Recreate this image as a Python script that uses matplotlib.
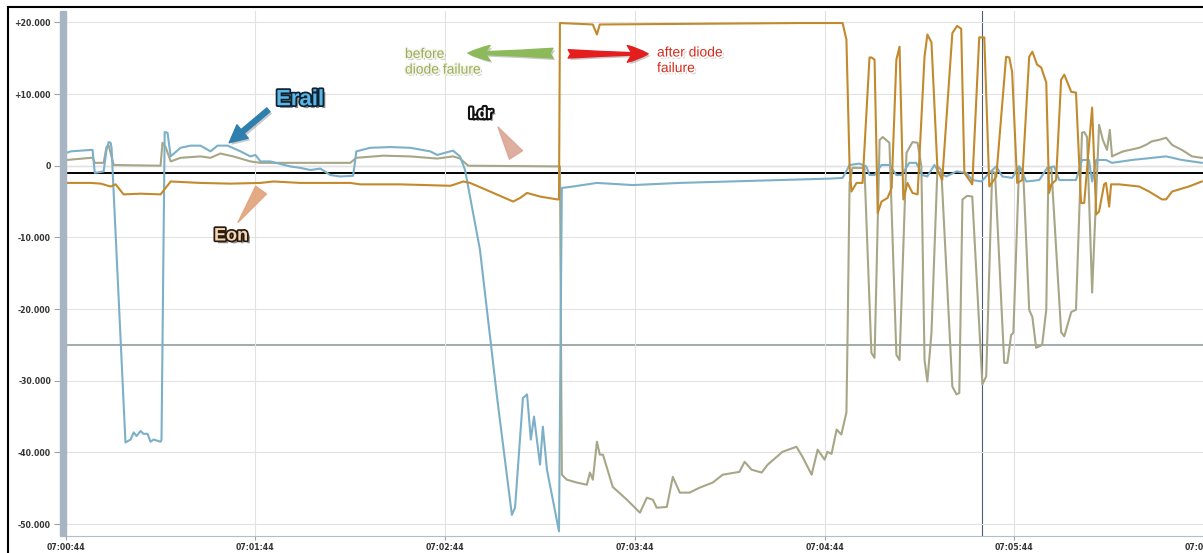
import matplotlib.pyplot as plt
import matplotlib.patheffects as pe
from matplotlib.patches import Rectangle
from matplotlib.lines import Line2D
from matplotlib.ticker import FuncFormatter

# seconds after 07:00:44, value
erail_pts = [(0.3, 1.8), (1.6, 2.0), (7.9, 2.2), (8.5, 2.2), (9.2, -1.0), (12.0, -0.8), (12.9, 2.2),
             (13.6, 3.3), (14.2, 3.2), (14.5, 2.5), (18.9, -38.6), (20.5, -38.2), (21.5, -37.2),
             (22.4, -37.7), (23.7, -37.0), (24.6, -37.4), (25.9, -37.4), (26.8, -38.5), (27.8, -38.2),
             (30.0, -38.5), (30.3, -38.2), (31.3, 4.7), (32.2, 4.6), (33.2, 1.3), (36.3, 2.5), (39.5, 2.8),
             (42.6, 2.8), (45.8, 2.0), (48.0, 2.8), (51.2, 2.8), (55.3, 2.0), (58.4, 1.3), (60.0, 1.5),
             (61.6, 0.6), (64.7, 0.6), (71.0, -0.1), (74.2, -0.3), (77.4, -0.6), (80.5, -0.4), (83.7, -1.3),
             (86.8, -1.5), (90.9, -1.4), (91.9, 2.0), (96.3, 2.5), (102.6, 2.6), (108.9, 2.5), (115.3, 2.0),
             (117.5, 1.5), (121.6, 2.0), (122.5, 2.1), (124.7, 1.3), (126.3, -0.6), (131.0, -11.7),
             (136.5, -32.6), (141.1, -48.7), (142.1, -47.7), (144.6, -32.4), (145.9, -31.9), (147.1, -38.2),
             (148.1, -35.0), (150.0, -41.7), (150.9, -36.4), (152.2, -42.4), (156.0, -51.0), (156.9, -3.1),
             (160.4, -2.9), (168.0, -2.4), (179.4, -2.7), (194.2, -2.4), (210.0, -2.2), (225.8, -2.0),
             (241.6, -1.8), (245.7, -1.7), (247.9, 0.1), (251.0, 0.3), (253.2, -0.1), (254.2, -1.3),
             (255.8, -1.3), (258.0, 0.1), (260.5, 0.1), (262.7, -1.3), (264.3, -1.3), (266.8, 0.4),
             (269.0, 0.4), (270.9, -1.3), (272.5, -1.5), (274.7, 0.1), (276.3, -1.0), (278.5, -1.5),
             (281.7, -0.8), (284.8, -1.0), (286.7, -2.0), (289.6, -2.2), (292.1, -1.0), (294.3, -0.1),
             (296.2, -1.5), (299.3, -1.7), (301.5, -0.1), (303.8, -2.2), (307.9, -2.0), (310.4, -0.3),
             (312.6, -0.1), (314.2, -2.0), (319.5, -2.0), (321.4, 0.8), (323.6, 0.8), (324.6, -2.2),
             (325.9, 0.8), (329.0, 0.8), (330.9, 0.4), (337.2, 0.8), (348.0, 1.3), (353.0, 0.8), (359.3, 0.4)]

idr_pts = [(0.3, 0.8), (7.9, 1.1), (8.5, 1.1), (9.2, 0.4), (12.0, 0.4), (12.9, 2.6), (13.6, 2.8), (14.2, 1.8),
           (15.2, 0.1), (30.0, 0.0), (30.6, 3.2), (31.6, 2.6), (33.2, 0.6), (36.3, 1.1), (42.6, 1.3),
           (45.8, 1.1), (48.9, 1.7), (53.0, 1.3), (58.4, 0.6), (61.6, 0.4), (90.0, 0.4), (91.9, 1.1),
           (100.4, 1.4), (108.9, 1.3), (117.5, 1.0), (122.5, 1.3), (124.7, 1.0), (127.3, 0.0), (155.7, -0.1),
           (156.3, -0.1), (156.9, -43.1), (158.5, -43.8), (161.7, -44.2), (164.8, -44.5), (165.8, -42.8),
           (166.7, -43.8), (168.0, -38.5), (168.9, -40.3), (169.9, -40.3), (173.0, -44.8), (177.5, -46.6),
           (181.6, -48.4), (183.8, -46.3), (185.7, -46.6), (186.9, -47.7), (190.1, -47.6), (192.0, -43.4),
           (194.2, -45.6), (197.3, -45.6), (200.5, -44.9), (204.6, -44.2), (207.8, -43.1), (213.1, -42.7),
           (214.7, -41.3), (216.9, -42.4), (220.1, -42.8), (222.0, -41.7), (226.7, -39.9), (231.1, -39.2),
           (233.0, -40.6), (235.9, -43.1), (237.8, -39.6), (240.0, -41.0), (240.9, -39.9), (242.2, -40.2),
           (243.8, -36.8), (245.3, -37.5), (246.9, -34.4), (247.2, -25.7), (247.9, -2.4), (248.8, -0.3),
           (252.6, -0.3), (254.8, -26.1), (255.8, -26.8), (257.4, 3.6), (258.4, 4.0), (260.5, 3.2),
           (262.7, -26.4), (263.7, -27.1), (265.9, 1.8), (267.8, 3.3), (269.4, 3.2), (270.6, -0.1),
           (271.6, -27.1), (272.5, -30.1), (273.8, -23.3), (275.7, -0.1), (276.9, -0.6), (280.4, -30.8),
           (281.7, -31.9), (282.6, -31.7), (283.6, -4.7), (285.1, -4.2), (286.7, -4.3), (289.9, -30.5),
           (291.1, -29.4), (293.0, -0.8), (293.9, -1.0), (296.8, -27.5), (297.8, -27.5), (299.0, -23.6),
           (299.7, -23.3), (301.5, -0.1), (302.8, -0.8), (304.7, -20.1), (305.7, -21.1), (306.9, -25.4),
           (308.8, -25.0), (310.1, -20.1), (310.8, -0.3), (311.7, -0.3), (314.8, -23.2), (315.8, -23.8),
           (318.0, -20.4), (319.5, -20.1), (321.4, 4.6), (322.1, 4.7), (323.0, 4.0), (324.6, -17.7),
           (326.8, 5.7), (328.0, 3.6), (329.3, 2.2), (330.2, 5.0), (330.9, 1.3), (331.8, 1.5), (334.4, 2.0),
           (339.5, 2.5), (341.6, 2.9), (343.5, 3.4), (345.7, 3.6), (348.0, 3.9), (349.9, 2.9), (353.0, 2.2),
           (356.2, 1.3), (359.3, 1.1)]

eon_pts = [(0.3, -2.4), (7.9, -2.4), (11.1, -2.5), (14.2, -2.9), (15.8, -2.6), (18.3, -4.0), (23.7, -3.9),
           (30.0, -4.0), (33.2, -2.2), (42.6, -2.4), (52.1, -2.5), (61.6, -2.4), (65.7, -2.2), (74.2, -2.4),
           (90.0, -2.4), (93.1, -2.6), (105.8, -2.6), (121.6, -2.8), (123.1, -2.6), (125.7, -2.2),
           (127.9, -2.4), (134.2, -3.6), (141.5, -5.0), (143.7, -4.5), (145.9, -3.8), (150.0, -4.3),
           (155.4, -4.7), (156.0, -4.7), (156.3, 19.9), (166.7, 19.7), (168.0, 18.3), (168.9, 19.7),
           (200.5, 19.8), (232.1, 19.9), (245.7, 19.9), (246.9, 17.6), (247.9, -0.1), (248.5, -3.6),
           (250.1, -2.4), (252.0, -2.4), (254.2, 15.1), (254.8, 15.1), (255.8, 14.8), (256.8, -6.6),
           (258.0, -5.0), (259.9, -4.5), (261.2, -3.1), (262.7, 14.8), (263.7, 16.6), (264.9, -4.7),
           (266.2, -2.4), (267.8, -3.8), (269.4, -4.0), (271.6, 15.2), (272.5, 18.3), (273.8, 17.2),
           (275.7, -0.6), (277.2, -2.0), (280.4, 18.5), (281.9, 19.5), (283.2, 19.1), (284.2, -1.0),
           (286.4, -2.4), (286.7, -2.6), (288.9, 17.9), (290.5, 17.9), (292.1, -2.9), (294.3, -1.5),
           (297.4, 15.2), (298.4, 15.1), (299.3, 13.1), (300.9, -2.4), (302.5, -2.0), (304.7, 15.2),
           (305.7, 15.9), (307.2, 14.1), (308.5, 13.7), (310.1, 11.6), (311.0, -3.8), (311.7, -2.6),
           (313.2, -2.0), (314.8, 12.0), (315.8, 12.7), (318.0, 10.3), (319.5, 10.2), (321.1, -5.2),
           (322.1, -5.2), (324.6, 8.1), (325.9, -6.8), (326.8, -6.4), (328.4, -2.6), (329.0, -2.4),
           (330.0, -5.7), (330.6, -2.6), (333.1, -2.6), (339.5, -2.9), (342.6, -3.6), (346.7, -4.7),
           (348.0, -4.7), (349.9, -3.6), (355.2, -2.9), (359.3, -2.2)]

x_ticks = [0, 60, 120, 180, 240, 300, 360]
y_ticks = [-50, -40, -30, -20, -10, 0, 10, 20]
zero_ref = -1.0       # black reference level
limit_ref = -25.0     # grey threshold level
cursor_t = 289.8      # marker cursor position

W, H = 1203, 553
fig = plt.figure(figsize=(W / 100, H / 100), dpi=100)
ax = fig.add_axes([65.7 / W, 17 / H, (1205 - 65.7) / W, 525 / H])
ax.set_xlim(0, 360.3)
ax.set_ylim(-51.65, 21.58)

# grid and reference lines
ax.set_xticks(x_ticks)
ax.set_yticks(y_ticks)
ax.grid(True, color='#e2e2e2', lw=0.8, zorder=0)
ax.axhline(0, color='#c4c4c4', lw=0.9, zorder=1)
ax.axhline(limit_ref, color='#a2aaaa', lw=1.4, zorder=1)
ax.axhline(zero_ref, color='black', lw=1.4, zorder=1)
ax.axvline(cursor_t, color='#4c5c72', lw=0.8, zorder=1)

# the three traces
t, v = zip(*idr_pts)
ax.plot(t, v, color='#a7a687', lw=1.5, zorder=2)
t, v = zip(*erail_pts)
ax.plot(t, v, color='#7cb0c8', lw=1.5, zorder=3)
t, v = zip(*eon_pts)
ax.plot(t, v, color='#c28a2c', lw=1.5, zorder=4)


def time_label(s, pos):
    total = 44 + int(round(s))
    return f"07:{total // 60:02d}:{total % 60:02d}"


def value_label(val, pos):
    if abs(val) < 1e-9:
        return "0"
    return f"{val:+.3f}"


ax.xaxis.set_major_formatter(FuncFormatter(time_label))
ax.yaxis.set_major_formatter(FuncFormatter(value_label))
for s in ['top', 'right', 'left']:
    ax.spines[s].set_visible(False)
ax.spines['bottom'].set_color('#b4bcc6')
ax.spines['bottom'].set_linewidth(0.8)
ax.tick_params(axis='y', length=9, width=0.8, color='#9aa4b0', pad=1.5,
               labelsize=5.6, labelcolor='#333333')
ax.tick_params(axis='x', length=3, width=0.8, color='#9aa4b0', pad=2,
               labelsize=5.6, labelcolor='#333333')
for lab in ax.get_xticklabels() + ax.get_yticklabels():
    lab.set_fontweight('bold')

# value scale bar on the left edge
fig.patches.append(Rectangle((60 / W, 17 / H), 5.7 / W, 525 / H, transform=fig.transFigure,
                             color='#a9b4c2', zorder=5))
# outer frame (top and left edges)
fig.add_artist(Line2D([8 / W, 1], [1 - 6.7 / H, 1 - 6.7 / H], color='black', lw=1.5))
fig.add_artist(Line2D([8 / W, 8 / W], [0, 1 - 6.7 / H], color='black', lw=1.5))


def label_fx(edge, width=2.5):
    return [pe.SimplePatchShadow(offset=(2, -2), shadow_rgbFace='black', alpha=0.45),
            pe.Stroke(linewidth=width, foreground=edge), pe.Normal()]


arrow_fx = [pe.SimplePatchShadow(offset=(1.5, -1.5), shadow_rgbFace='#666666', alpha=0.35), pe.Normal()]

# callouts
ax.text(74.1, 9.2, 'Erail', family='Liberation Sans', weight='bold', fontsize=16,
        color='#5cb6e4', ha='center', va='center', zorder=10, path_effects=label_fx('#0d2233'))
ax.annotate('', xy=(51.7, 3.2), xytext=(64.1, 7.8), zorder=9,
            arrowprops=dict(arrowstyle='simple,head_length=0.9,head_width=0.9,tail_width=0.25',
                            color='#2f7fae', mutation_scale=14, shrinkA=0, shrinkB=0,
                            path_effects=arrow_fx))

ax.text(52.3, -9.8, 'Eon', family='Liberation Sans', weight='bold', fontsize=13,
        color='#f3d6b4', ha='center', va='center', zorder=10, path_effects=label_fx('#2a1a10'))
ax.annotate('', xy=(54.5, -7.9), xytext=(61.8, -3.4), zorder=9,
            arrowprops=dict(arrowstyle='wedge,tail_width=0.6,shrink_factor=0.5',
                            color='#e2a27a', alpha=0.9, mutation_scale=16, shrinkA=0, shrinkB=0))

ax.text(131.3, 7.2, 'I.dr', family='Liberation Sans', weight='bold', fontsize=11,
        color='white', ha='center', va='center', zorder=10, path_effects=label_fx('#111111', 3))
ax.annotate('', xy=(136.7, 5.4), xytext=(142.4, 1.5), zorder=9,
            arrowprops=dict(arrowstyle='wedge,tail_width=0.7,shrink_factor=0.5',
                            color='#dba595', alpha=0.9, mutation_scale=16, shrinkA=0, shrinkB=0))

ax.text(107.3, 14.5, 'before\ndiode failure', family='Liberation Sans', fontsize=10,
        color='#9cab5e', ha='left', va='center', linespacing=1.15, zorder=10,
        path_effects=[pe.SimplePatchShadow(offset=(1.5, -1.5), shadow_rgbFace='#777777', alpha=0.4),
                      pe.Stroke(linewidth=2, foreground='#f2f5e6'), pe.Normal()])
ax.annotate('', xy=(127.2, 15.7), xytext=(154.1, 15.7), zorder=9,
            arrowprops=dict(arrowstyle='fancy,head_length=1.6,head_width=1.1,tail_width=0.7',
                            color='#8cba5a', mutation_scale=10, shrinkA=0, shrinkB=0,
                            path_effects=arrow_fx))

ax.text(187.0, 14.7, 'after diode\nfailure', family='Liberation Sans', fontsize=10,
        color='#d42a1a', ha='left', va='center', linespacing=1.15, zorder=10,
        path_effects=[pe.SimplePatchShadow(offset=(1.5, -1.5), shadow_rgbFace='#777777', alpha=0.4),
                      pe.Stroke(linewidth=2, foreground='white'), pe.Normal()])
ax.annotate('', xy=(184.2, 15.6), xytext=(158.9, 15.6), zorder=9,
            arrowprops=dict(arrowstyle='fancy,head_length=1.5,head_width=1.2,tail_width=0.6',
                            color='#e41e1e', mutation_scale=10, shrinkA=0, shrinkB=0,
                            path_effects=arrow_fx))

fig.savefig('out.png', dpi=100)
